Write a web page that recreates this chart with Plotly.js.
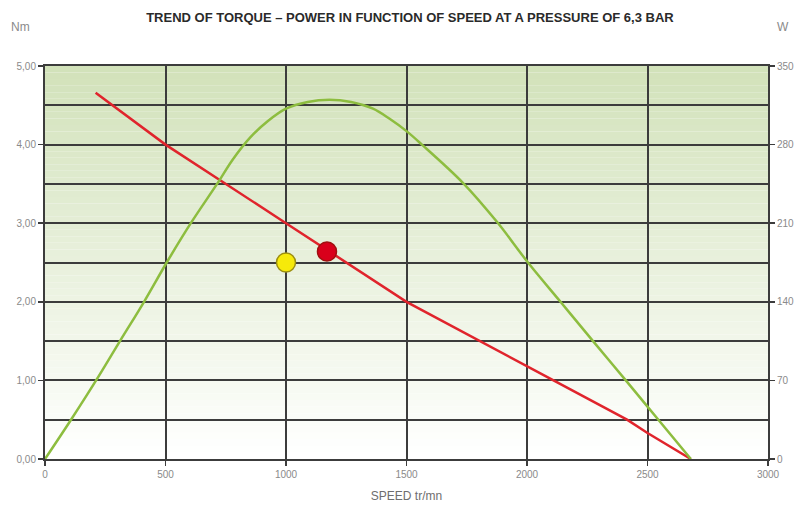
<!DOCTYPE html>
<html>
<head>
<meta charset="utf-8">
<script src="https://cdn.plot.ly/plotly-3.0.1.min.js"></script>
<style>html,body{margin:0;padding:0;background:#fff}#chart{width:796px;height:508px}</style>
</head>
<body>
<div id="chart"></div>
<script>
// Torque (Nm) vs speed
const torqueSpeed = [210, 500, 1000, 1500, 2110, 2415, 2500, 2680];
const torqueNm    = [4.66, 4.0, 3.0, 2.0, 1.0, 0.5, 0.33, 0];
// Power (W) vs speed
const powerSpeed = [0, 108, 212, 311, 411, 505, 605, 714, 780, 850, 925, 1000, 1090, 1180, 1270, 1361, 1430, 1500, 1564, 1734, 1876, 2004, 2139, 2274, 2410, 2545, 2680];
const powerW     = [0, 35, 70, 105, 140, 175, 210, 245, 267, 286, 301, 312, 318, 320, 318, 312, 303, 292, 280, 246, 211, 175, 140, 105, 70, 35, 0];
// Operating points (Nm)
const yellowPoint = {x: [1000], y: [2.5]};
const redPoint = {x: [1170], y: [2.64]};
// Tick labels
const xTicks = [0, 500, 1000, 1500, 2000, 2500, 3000];
const yTicks = [0, 1, 2, 3, 4, 5];
const y2Ticks = [0, 70, 140, 210, 280, 350];

const FONT = 'Liberation Sans Narrow, Liberation Sans, Arial';
const tickFont = {family: FONT, size: 10, color: '#8a8a8a'};
const gridC = '#3c3c3c';

// background gradient bands
const bgShapes = [];
const NB = 60;
const cTop = [210, 226, 186], cBot = [255, 255, 255];
for (let i = 0; i < NB; i++) {
  const t = i / (NB - 1);
  const c = cTop.map((v, k) => Math.round(v + (cBot[k] - v) * t));
  bgShapes.push({type: 'rect', xref: 'paper', yref: 'paper', x0: 0, x1: 1,
    y0: 1 - (i + 1) / NB, y1: 1 - i / NB, layer: 'below', line: {width: 0},
    fillcolor: `rgb(${c[0]},${c[1]},${c[2]})`});
}

const traces = [
  {x: powerSpeed, y: powerW, yaxis: 'y2', mode: 'lines', type: 'scatter',
   line: {color: '#8dbd3f', width: 2.5, shape: 'spline', smoothing: 1}, hoverinfo: 'skip'},
  {x: torqueSpeed, y: torqueNm, mode: 'lines', type: 'scatter',
   line: {color: '#e0242c', width: 2.5}, hoverinfo: 'skip'},
  {x: yellowPoint.x, y: yellowPoint.y, mode: 'markers', type: 'scatter',
   marker: {color: '#f6ea0a', size: 19, line: {color: '#9c8f10', width: 1.5}}},
  {x: redPoint.x, y: redPoint.y, mode: 'markers', type: 'scatter',
   marker: {color: '#d9001b', size: 19, line: {color: '#a01010', width: 1.5}}}
];

const layout = {
  width: 796, height: 508,
  margin: {l: 45, r: 28, t: 66, b: 49},
  paper_bgcolor: '#ffffff', plot_bgcolor: '#ffffff',
  showlegend: false,
  separators: ',.',
  shapes: bgShapes,
  title: {text: 'TREND OF TORQUE – POWER IN FUNCTION OF SPEED AT A PRESSURE OF 6,3 BAR',
    font: {family: FONT, size: 13, color: '#2a2a2a', weight: 'bold'},
    x: 0.515, xanchor: 'center', y: 0.966, yanchor: 'middle'},
  xaxis: {range: [0, 3000], tickvals: xTicks, ticktext: xTicks.map(String),
    showgrid: true, gridcolor: gridC, gridwidth: 2, zeroline: false,
    showline: true, linecolor: gridC, linewidth: 2, mirror: true,
    ticks: 'outside', ticklen: 5, tickwidth: 1.5, tickcolor: gridC,
    tickfont: tickFont, fixedrange: true,
    title: {text: 'SPEED tr/mn', font: {family: FONT, size: 12, color: '#6e6e6e'}, standoff: 13}},
  yaxis: {range: [0, 5], tickvals: yTicks, tickformat: '.2f',
    showgrid: true, gridcolor: gridC, gridwidth: 2, zeroline: false,
    minor: {dtick: 0.5, showgrid: true, gridcolor: gridC, gridwidth: 2, ticks: ''},
    showline: true, linecolor: gridC, linewidth: 2,
    ticks: 'outside', ticklen: 5, tickwidth: 1.5, tickcolor: gridC,
    tickfont: tickFont, fixedrange: true},
  yaxis2: {range: [0, 350], tickvals: y2Ticks, overlaying: 'y', side: 'right',
    showgrid: false, zeroline: false, showline: true, linecolor: gridC, linewidth: 2,
    ticks: 'outside', ticklen: 5, tickwidth: 1.5, tickcolor: gridC,
    tickfont: tickFont, fixedrange: true},
  annotations: [
    {text: 'Nm', xref: 'paper', yref: 'paper', x: -0.05, y: 1.1, xanchor: 'left', yanchor: 'middle',
     showarrow: false, font: {family: FONT, size: 12, color: '#8a8a8a'}},
    {text: 'W', xref: 'paper', yref: 'paper', x: 1.021, y: 1.1, xanchor: 'center', yanchor: 'middle',
     showarrow: false, font: {family: FONT, size: 12, color: '#8a8a8a'}}
  ]
};

Plotly.newPlot('chart', traces, layout, {displayModeBar: false, staticPlot: true});
</script>
</body>
</html>
